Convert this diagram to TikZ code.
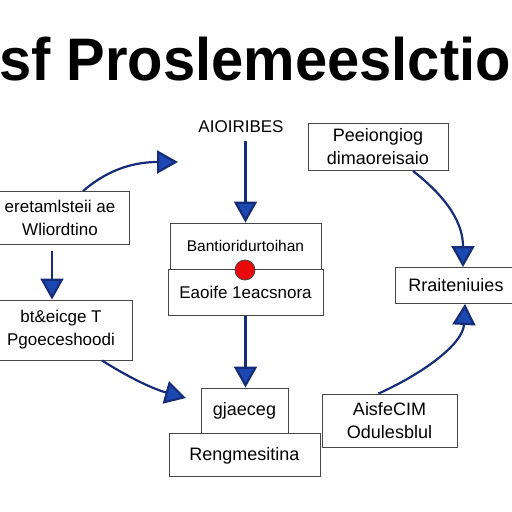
\documentclass[tikz,border=0pt]{standalone}
\usepackage{fontspec}
\setmainfont{Liberation Sans}
\usetikzlibrary{positioning,arrows.meta}
\definecolor{flownavy}{RGB}{22,44,120}
\definecolor{tipblue}{RGB}{28,72,178}
\definecolor{boxgray}{RGB}{70,70,70}
\definecolor{dotred}{RGB}{232,10,10}
\tikzset{
  card/.style ={rectangle, draw=boxgray, fill=white, line width=0.9pt,
                align=center, inner sep=2pt, font=\fontsize{18}{23}\selectfont},
  tag/.style  ={inner sep=1pt, font=\fontsize{17}{20}\selectfont},
  joint/.style={circle, draw=boxgray, fill=dotred, minimum size=20pt,
                inner sep=0pt, line width=0.8pt},
  flow/.style ={-{Triangle[width=23pt,length=21pt,fill=tipblue]}, line width=2.2pt, draw=flownavy},
}

\begin{document}
\begin{tikzpicture}[x=1pt,y=-1pt]
\useasboundingbox (0,0) rectangle (512,512);
% title
\node[anchor=base west, inner sep=0pt, xscale=0.965, font=\fontsize{60}{60}\selectfont\bfseries] (title) at (-1,80) {sf Proslemeeslctio};

% left column
\node[card, minimum width=138pt, minimum height=53pt, font=\fontsize{17}{23}\selectfont] (wlio) at (60,218) {eretamlsteii ae\\Wliordtino};
\node[card, minimum width=142pt, minimum height=60pt, font=\fontsize{17}{23}\selectfont] (pgoe) at (61,330) {bt\&eicge T\\Pgoeceshoodi};
\coordinate (wliotip) at (178,162);
\coordinate (pgoetip) at (186,398);

% centre column
\node[tag] (attr) at (241,127) {AIOIRIBES};
\node[card, minimum width=151pt, minimum height=46pt, font=\fontsize{15.5}{20}\selectfont] (bant) at (245.5,246) {Bantioridurtoihan};
\node[card, minimum width=155pt, minimum height=46pt, font=\fontsize{17}{20}\selectfont, below=0pt of bant] (eaoi) {Eaoife 1eacsnora};
\node[joint] (join) at (245,270) {};
\node[card, minimum width=87pt, minimum height=45pt] (gjae) at (244.5,410.5) {gjaeceg};
\node[card, minimum width=151pt, minimum height=43pt, below=0pt of gjae] (reng) {Rengmesitina};

% right column
\node[card, minimum width=140pt, minimum height=47pt] (peei) at (378,147) {Peeiongiog\\dimaoreisaio};
\node[card, minimum width=122pt, minimum height=36pt] (rrai) at (456,285.5) {Rraiteniuies};
\node[card, minimum width=135pt, minimum height=53pt] (aisf) at (389.5,420.5) {AisfeCIM\\Odulesblul};

% flows left
\draw[flow] ([xshift=-8pt,yshift=-6pt]wlio.south) -- ([xshift=-9pt]pgoe.north);
\draw[flow] ([xshift=23pt]wlio.north) .. controls (105,172) and (130,162) .. (wliotip);
\draw[flow] ([xshift=41pt]pgoe.south) .. controls (125,375) and (150,388) .. (pgoetip);
% flows centre
\draw[flow] ([yshift=-7pt]attr.south -| bant.north) -- (bant.north);
\draw[flow] (eaoi.south) -- (eaoi.south |- gjae.north);
% flows right
\draw[flow] ([xshift=35pt]peei.south) .. controls (450,200) and (463,225) .. ([xshift=7pt]rrai.north);
\draw[flow] ([xshift=-11pt]aisf.north) .. controls (420,375) and (463,345) .. ([xshift=9pt]rrai.south);
\end{tikzpicture}
\end{document}
